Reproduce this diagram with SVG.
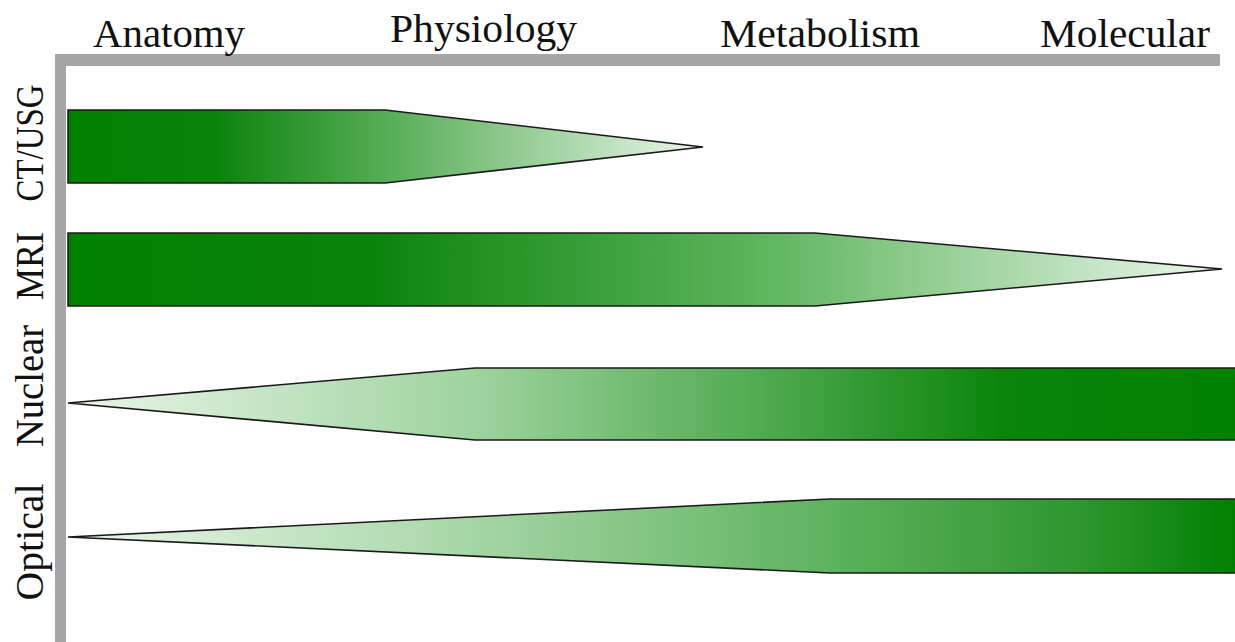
<svg xmlns="http://www.w3.org/2000/svg" width="1235" height="642" viewBox="0 0 1235 642">
<defs>
<style>
.lbl{font-family:"Liberation Serif","DejaVu Serif",serif;font-size:40px;fill:#111;}
.bar{stroke:#1a1a1a;stroke-width:1.6;stroke-linejoin:miter;}
.axis{fill:#a6a6a6;}
</style>
<linearGradient id="gCT" gradientUnits="userSpaceOnUse" x1="68" y1="0" x2="703" y2="0">
<stop offset="0" stop-color="#008000"/>
<stop offset="0.23" stop-color="#0a830a"/>
<stop offset="0.5" stop-color="#55ad55"/>
<stop offset="1" stop-color="#eaf6ea"/>
</linearGradient>
<linearGradient id="gMRI" gradientUnits="userSpaceOnUse" x1="68" y1="0" x2="1222" y2="0">
<stop offset="0" stop-color="#008000"/>
<stop offset="0.26" stop-color="#0a830a"/>
<stop offset="0.6" stop-color="#5db55d"/>
<stop offset="1" stop-color="#edf7ed"/>
</linearGradient>
<linearGradient id="gNuc" gradientUnits="userSpaceOnUse" x1="68" y1="0" x2="1235" y2="0">
<stop offset="0" stop-color="#eaf6ea"/>
<stop offset="0.35" stop-color="#9ed39e"/>
<stop offset="0.6" stop-color="#4ea94e"/>
<stop offset="0.8" stop-color="#0a850a"/>
<stop offset="1" stop-color="#008000"/>
</linearGradient>
<linearGradient id="gOpt" gradientUnits="userSpaceOnUse" x1="68" y1="0" x2="1235" y2="0">
<stop offset="0" stop-color="#eaf6ea"/>
<stop offset="0.3" stop-color="#b0dbb0"/>
<stop offset="0.65" stop-color="#5fb35f"/>
<stop offset="0.88" stop-color="#2a952a"/>
<stop offset="1" stop-color="#008000"/>
</linearGradient>
</defs>
<rect width="1235" height="642" fill="#fefefe"/>
<g id="axes">
<rect class="axis" x="55" y="54" width="1165" height="12"/>
<rect class="axis" x="55" y="54" width="11" height="588"/>
</g>
<g id="top-labels">
<text class="lbl" x="93" y="47" textLength="152" lengthAdjust="spacingAndGlyphs">Anatomy</text>
<text class="lbl" x="390" y="42" textLength="187" lengthAdjust="spacingAndGlyphs">Physiology</text>
<text class="lbl" x="720" y="47" textLength="200" lengthAdjust="spacingAndGlyphs">Metabolism</text>
<text class="lbl" x="1040" y="47" textLength="170" lengthAdjust="spacingAndGlyphs">Molecular</text>
</g>
<g id="side-labels">
<text class="lbl" transform="translate(43,143) rotate(-90)" text-anchor="middle" textLength="117" lengthAdjust="spacingAndGlyphs">CT/USG</text>
<text class="lbl" transform="translate(43,266) rotate(-90)" text-anchor="middle" textLength="68" lengthAdjust="spacingAndGlyphs">MRI</text>
<text class="lbl" transform="translate(43,386) rotate(-90)" text-anchor="middle" textLength="122" lengthAdjust="spacingAndGlyphs">Nuclear</text>
<text class="lbl" transform="translate(43,542) rotate(-90)" text-anchor="middle" textLength="117" lengthAdjust="spacingAndGlyphs">Optical</text>
</g>
<g id="ct-usg">
<polygon class="bar" fill="url(#gCT)" points="68,110 385,110 703,147 385,183 68,183"/>
</g>
<g id="mri">
<polygon class="bar" fill="url(#gMRI)" points="68,233 815,233 1222,269 815,306 68,306"/>
</g>
<g id="nuclear">
<polygon class="bar" fill="url(#gNuc)" points="68,403 475,368 1236,368 1236,440 475,440"/>
</g>
<g id="optical">
<polygon class="bar" fill="url(#gOpt)" points="68,537 830,499 1236,499 1236,573 830,573"/>
</g>
</svg>
